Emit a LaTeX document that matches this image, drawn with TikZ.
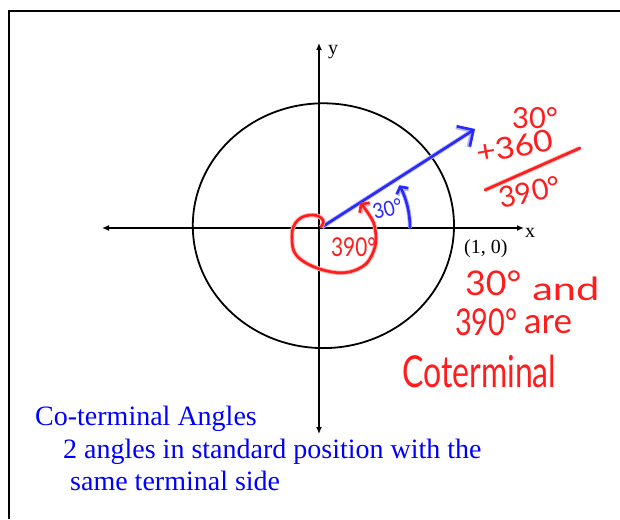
\documentclass[tikz,border=0pt]{standalone}
\usepackage{fontspec}
\setmainfont{Liberation Serif}
\newfontfamily\hand{Lato}
\usetikzlibrary{arrows.meta}
\definecolor{inkred}{RGB}{255,28,28}
\definecolor{inkblue}{RGB}{40,40,255}
\definecolor{txtblue}{RGB}{0,0,255}
\begin{document}
\begin{tikzpicture}[x=1pt,y=-1pt,
  axisline/.style={line width=1.6pt, {Latex[length=7pt,width=6pt]}-{Latex[length=7pt,width=6pt]}},
  lbl/.style={font=\fontsize{20}{24}\selectfont, inner sep=0pt, anchor=base west},
  body/.style={font=\fontsize{28}{33}\selectfont, text=txtblue, inner sep=0pt, anchor=base west},
  redink/.style={draw=inkred, line width=2.6pt, line cap=round, line join=round,
     preaction={draw=inkred!35, line width=4.4pt}},
  blueink/.style={draw=inkblue, line width=2.6pt, line cap=round, line join=round,
     preaction={draw=inkblue!35, line width=4.4pt}},
  redtext/.style={text=inkred, inner sep=0pt, anchor=base west},
  bluetext/.style={text=inkblue, inner sep=0pt, anchor=base west}]
\useasboundingbox (0,0) rectangle (620,519);
% frame
\draw[line width=2.4pt] (9,519) -- (9,11) -- (620,11);
% axes
\coordinate (O) at (319,228);
\coordinate (xl) at (102,228);
\coordinate (xr) at (524,228);
\coordinate (yt) at (319,43);
\coordinate (yb) at (319,434);
\draw[axisline] (xl) -- (xr);
\draw[axisline] (yb) -- (yt);
\node[lbl] (ylab) at (328,55) {y};
\node[lbl] (xlab) at (525,237) {x};
\node[lbl] (pt) at (464,253) {(1, 0)};
% unit circle
\draw[line width=1.8pt] (323.4,225.7) ellipse [x radius=130.6, y radius=122.4];
% terminal side
\coordinate (s0) at (322,227);
\coordinate (s1) at (475,129);
\draw[blueink, -{Straight Barb[length=12pt,width=24pt]}] (s0) -- (s1);
% 30 degree arc
\coordinate (a0) at (410,228);
\draw[blueink, -{Straight Barb[length=5pt,width=13pt]}] (a0) arc[start angle=0, end angle=-28, radius=91];
\node[bluetext, font=\hand\fontsize{21}{21}\selectfont, rotate=15, xscale=0.9] (b30) at (375,220) {30\textdegree};
% 390 degree loop
\draw[redink, -{Straight Barb[length=5pt,width=14pt]}] plot[smooth, tension=0.7] coordinates
  {(321,227) (323,220) (313,215) (298,220) (292,236) (299,258) (332,272) (360,268) (374,250) (375,228) (368,213) (360,203)};
\node[redtext, font=\hand\fontsize{26}{26}\selectfont, xscale=0.8] (r390) at (331,256) {390\textdegree};
% calculation
\node[redtext, font=\hand\fontsize{29}{29}\selectfont] (c30) at (512,128) {30\textdegree};
\node[redtext, font=\hand\fontsize{30}{30}\selectfont, rotate=10, xscale=1.12] (c360) at (478,164) {+360};
\coordinate (l0) at (485,190);
\coordinate (l1) at (580,148);
\draw[redink] (l0) -- (l1);
\node[redtext, font=\hand\fontsize{29}{29}\selectfont, rotate=12] (c390) at (501,209) {390\textdegree};
% statement
\node[redtext, font=\hand\fontsize{34}{34}\selectfont, xscale=1.05] (w1) at (465,295) {30\textdegree};
\node[redtext, font=\hand\fontsize{32}{32}\selectfont, xscale=1.3] (w2) at (532,300) {and};
\node[redtext, font=\hand\fontsize{37}{37}\selectfont, xscale=0.78] (w3) at (455,335) {390\textdegree};
\node[redtext, font=\hand\fontsize{35}{35}\selectfont] (w4) at (524,333) {are};
\node[redtext, font=\hand\fontsize{40}{40}\selectfont, xscale=0.8, yscale=1.1] (w5) at (402,387) {Coterminal};
% text
\node[body] (t1) at (35,425) {Co-terminal Angles};
\node[body] (t2) at (63,458) {2 angles in standard position with the};
\node[body] (t3) at (70,490) {same terminal side};
\end{tikzpicture}
\end{document}
